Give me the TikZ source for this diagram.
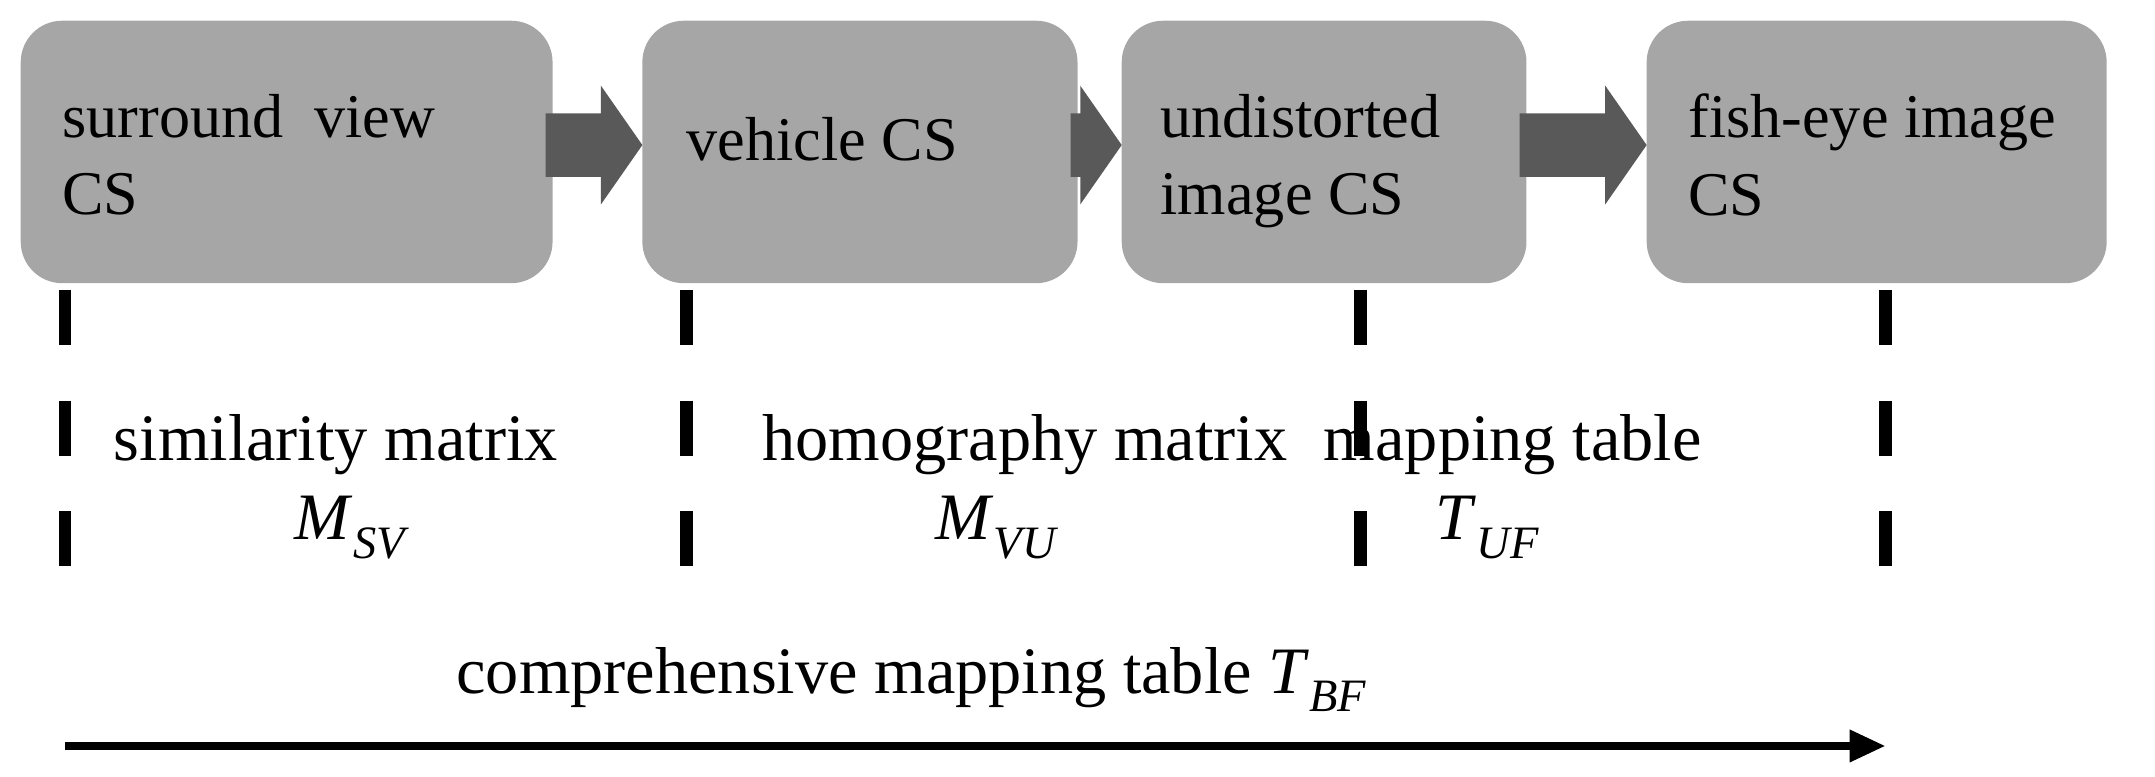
\documentclass[tikz,border=0pt]{standalone}
\usepackage{fontspec}
\setmainfont{Liberation Serif}
\usetikzlibrary{arrows.meta,shapes.arrows}
\newcommand{\mysub}[2]{\textit{#1}\textsubscript{\textit{#2}}}
\begin{document}
\begin{tikzpicture}[x=1pt,y=-1pt,
 box/.style={fill=black!35,rounded corners=30pt,draw=none},
 btxt/.style={anchor=north west,align=left,font=\fontsize{45}{56}\selectfont,inner sep=0pt},
 ltxt/.style={font=\fontsize{48}{56}\selectfont,inner sep=0pt},
 blk/.style={fill=black!65,draw=none},
 vdash/.style={line width=9pt,dash pattern=on 40pt off 40pt}]
\useasboundingbox (0,0) rectangle (1560,562);
\fill[box] (15,15) rectangle (400,205);
\fill[box] (465,15) rectangle (780,205);
\fill[box] (812,15) rectangle (1105,205);
\fill[box] (1192,15) rectangle (1525,205);
\node[btxt] (t1) at (45,68) {surround\ \ view\\CS};
\node[btxt] (t2) at (497,85) {vehicle CS};
\node[btxt] (t3) at (840,68) {undistorted\\image CS};
\node[btxt] (t4) at (1222,68) {fish-eye image\\CS};
\foreach \a/\b in {400/465,780/812,1105/1192}{
 \fill[blk] (\a-5,82) -- (\b-30,82) -- (\b-30,62) -- (\b,105) -- (\b-30,148) -- (\b-30,128) -- (\a-5,128) -- cycle;}
\foreach \x/\n in {47/a,497/b,985/c,1365/d}{
 \coordinate (\n1) at (\x,210); \coordinate (\n2) at (\x,412);
 \draw[vdash] (\n1) -- (\n2);}
\node[ltxt] (s1) at (243,322) {similarity matrix};
\node[ltxt] (m1) at (255,382) {\mysub{M}{SV}};
\node[ltxt] (s2) at (742,322) {homography matrix};
\node[ltxt] (m2) at (722,382) {\mysub{M}{VU}};
\node[ltxt] (s3) at (1095,322) {mapping table};
\node[ltxt] (m3) at (1077,382) {\mysub{T}{UF}};
\node[ltxt] (c) at (660,492) {comprehensive mapping table \mysub{T}{BF}};
\coordinate (p) at (47,540); \coordinate (q) at (1365,540);
\draw[line width=6pt,-{Triangle[length=26pt,width=22pt]}] (p) -- (q);
\end{tikzpicture}
\end{document}
